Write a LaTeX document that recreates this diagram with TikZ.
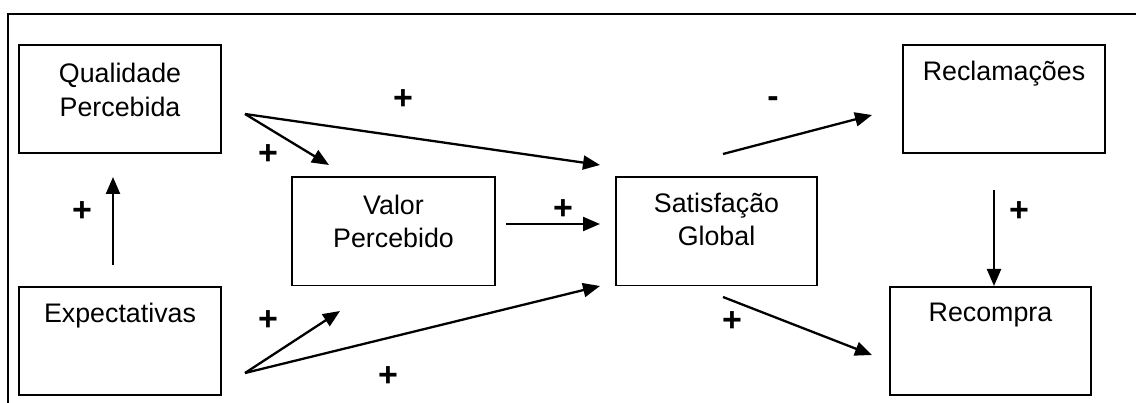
\documentclass[tikz,border=0pt]{standalone}
\usepackage{fontspec}
\setmainfont{Liberation Sans}
\usetikzlibrary{arrows.meta,calc}
\newcommand\boxfont{\fontsize{26.8}{33.5}\selectfont}
\newcommand\signfont{\fontsize{34}{40}\selectfont\bfseries}
\tikzset{
  box/.style={draw, line width=1.9pt, minimum width=202.1pt, minimum height=108.1pt, inner sep=0pt},
  boxtext/.style={font=\boxfont, align=center, anchor=north, inner sep=0pt},
  conn/.style={line width=2.3pt, -{Triangle[length=17pt,width=14pt]}},
  sign/.style={font=\signfont, anchor=base, inner sep=0pt},
  frame/.style={line width=1.8pt}
}
\begin{document}
\begin{tikzpicture}[x=1pt,y=-1pt]
\useasboundingbox (0,0) rectangle (1136,403);
% outer frame (top and left)
\coordinate (fb) at (8,403);
\coordinate (fc) at (8,14);
\coordinate (fr) at (1136,14);
\draw[frame] (fb) -- (fc) -- (fr);

% boxes
\node[box] (q) at (120,99) {};
\node[box] (e) at (120,341) {};
\node[box, minimum width=203.1pt] (v) at (393.5,231.5) {};
\node[box, minimum width=201.1pt] (s) at (716.5,231.5) {};
\node[box] (r) at (1004,99) {};
\node[box, minimum width=201.1pt] (p) at (990.5,341) {};

% texts
\node[boxtext] (tq) at ($(q.north)+(0,19)$) {Qualidade\\Percebida};
\node[boxtext] (te) at ($(e.north)+(0,17)$) {Expectativas};
\node[boxtext] (tv) at ($(v.north)+(0,18)$) {Valor\\Percebido};
\node[boxtext] (ts) at ($(s.north)+(0,16)$) {Satisfação\\Global};
\node[boxtext] (tr) at ($(r.north)+(0,17)$) {Reclamações};
\node[boxtext] (tp) at ($(p.north)+(0,17)$) {Recompra};

% connector end points
\coordinate (eu) at (113,265);
\coordinate (qi) at (113,177);
\coordinate (qo) at (245,114);
\coordinate (vi1) at (329,165);
\coordinate (si1) at (600,165);
\coordinate (vo) at (506,224);
\coordinate (si2) at (600,224);
\coordinate (eo) at (245,373);
\coordinate (vi2) at (340,311);
\coordinate (si3) at (600,286);
\coordinate (so1) at (723,154);
\coordinate (ri) at (872,115);
\coordinate (so2) at (723,297);
\coordinate (pi) at (872,355);
\coordinate (ro) at (994,190);

% connectors
\draw[conn] (eu) -- (qi);
\draw[conn] (qo) -- (vi1);
\draw[conn] (qo) -- (si1);
\draw[conn] (vo) -- (si2);
\draw[conn] (eo) -- (vi2);
\draw[conn] (eo) -- (si3);
\draw[conn] (so1) -- (ri);
\draw[conn] (so2) -- (pi);
\draw[conn] (ro) -- (ro |- p.north);

% signs
\node[sign] (l1) at (82,222) {+};
\node[sign] (l2) at (268,165) {+};
\node[sign] (l3) at (403,110) {+};
\node[sign] (l4) at (563,220) {+};
\node[sign] (l5) at (268,331) {+};
\node[sign] (l6) at (388,387) {+};
\node[sign] (l7) at (773,107.5) {-};
\node[sign] (l8) at (732,332) {+};
\node[sign] (l9) at (1019,222) {+};
\end{tikzpicture}
\end{document}
